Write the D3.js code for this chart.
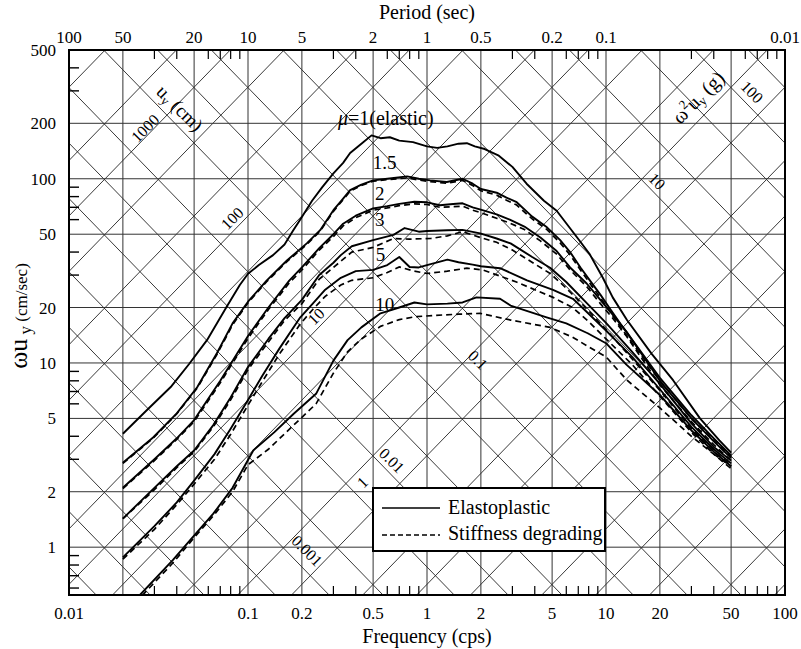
<!DOCTYPE html>
<html><head><meta charset="utf-8">
<script src="https://cdn.jsdelivr.net/npm/d3@7"></script>
<style>
body{margin:0;background:#fff}
svg text{font-family:"Liberation Serif","DejaVu Serif","Times New Roman",serif;fill:#000}
</style></head>
<body><svg id="c" width="801" height="649" font-family="Liberation Serif, DejaVu Serif, serif"></svg>
<script>
// ---------------- data ----------------
const freqGrid = [0.02,0.05,0.1,0.2,0.5,1,2,5,10,20,50];
const velGrid = [1,2,5,10,20,50,100,200];
const freqLabels = [0.01,0.1,0.2,0.5,1,2,5,10,20,50,100];
const periodLabels = [100,50,20,10,5,2,1,0.5,0.2,0.1,0.01];
const velLabels = [1,2,5,10,20,50,100,200,500];
const minorMult = [3,4,6,7,8,9];
const dispLines = [0.001,0.002,0.005,0.01,0.02,0.05,0.1,0.2,0.5,1,2,5,10,20,50,100,200,500,1000,2000,5000,10000];
const accLines = [0.00001,0.00002,0.00005,0.0001,0.0002,0.0005,0.001,0.002,0.005,0.01,0.02,0.05,0.1,0.2,0.5,1,2,5,10,20,50,100,200,500,1000];

// series: [frequency (cps), omega*u_y (cm/sec)]
const mu1 = [[0.02,4.13],[0.027,5.5],[0.037,7.4],[0.047,9.9],[0.059,13.3],[0.076,20.2],[0.09,26.5],[0.1,30.5],[0.115,34],[0.138,38.5],[0.16,44],[0.178,52],[0.2,62],[0.228,76],[0.26,90],[0.3,107],[0.34,122],[0.372,138],[0.43,155],[0.49,172],[0.55,166],[0.62,168],[0.7,161],[0.835,158],[1.0,150],[1.14,147],[1.3,150],[1.5,155],[1.67,156],[1.85,150],[2.1,145],[2.5,134],[3.0,116],[3.6,94],[4.5,76],[5.3,67],[6.9,48],[8.1,39],[9.6,29],[10.9,22.7],[13.1,17.1],[18,11.2],[23.7,8.06],[33.5,5],[43,3.8],[50,3.26]];
const mu15 = [[0.02,2.87],[0.0295,3.94],[0.04,5.33],[0.052,7.38],[0.067,11.3],[0.082,16.4],[0.1,21.5],[0.127,28],[0.165,36],[0.213,44.6],[0.253,52.6],[0.3,67.5],[0.34,78],[0.372,86.7],[0.43,93],[0.5,98],[0.6,100],[0.774,103],[0.9,100],[1.04,98],[1.29,96],[1.58,100],[1.8,94],[2.0,88],[2.45,84],[2.78,79],[3.17,74.6],[3.87,62.3],[4.68,54.5],[5.53,46.6],[6.3,40],[7.2,33],[8.14,28],[9.3,23.5],[10.6,19.5],[12.1,16.2],[15,12.2],[20,8.3],[30,5.2],[40,3.9],[50,3.15]];
const mu15d = [[0.02,2.85],[0.0295,3.9],[0.04,5.3],[0.052,7.3],[0.067,11.1],[0.082,16.1],[0.1,21.2],[0.127,27.6],[0.165,35.5],[0.213,44],[0.253,52],[0.3,66.5],[0.34,77],[0.372,85.5],[0.43,92],[0.5,97],[0.6,99],[0.774,101],[0.9,98.5],[1.04,96.5],[1.29,94.5],[1.58,98],[1.8,92],[2.0,86],[2.45,81.5],[2.78,76.5],[3.17,72],[3.87,60.5],[4.68,53],[5.53,45],[6.3,38.6],[7.2,32],[8.14,27],[9.3,22.6],[10.6,18.8],[12.1,15.6],[15,11.7],[20,8],[30,5],[40,3.8],[50,3.1]];
const mu2 = [[0.02,2.1],[0.03,3.0],[0.04,3.9],[0.05,4.9],[0.07,8],[0.1,14],[0.13,20],[0.17,28],[0.2,33],[0.25,42],[0.3,50],[0.34,57],[0.4,63],[0.5,69],[0.6,71],[0.7,73],[0.85,75],[1.0,74.5],[1.18,71.8],[1.4,73],[1.58,73.6],[1.8,70],[2.04,67.5],[2.45,64],[2.9,60],[3.5,55],[4.3,48],[5.3,40.5],[6.3,33],[7.8,27],[9.3,22],[10.9,18.3],[13,14.8],[20,8],[30,5],[40,3.75],[50,3.05]];
const mu2d = [[0.02,2.08],[0.03,2.95],[0.04,3.85],[0.05,4.8],[0.07,7.8],[0.1,13.6],[0.13,19.5],[0.17,27.2],[0.2,32],[0.25,41],[0.3,48.5],[0.34,55.5],[0.4,61.5],[0.5,67.5],[0.6,69.5],[0.7,71.5],[0.85,73],[1.0,72.5],[1.18,70],[1.4,70.5],[1.58,71],[1.8,67.5],[2.04,65],[2.45,61],[2.9,57.5],[3.5,53],[4.3,46],[5.3,39],[6.3,32],[7.8,26],[9.3,21],[10.9,17.5],[13,14],[20,7.6],[30,4.8],[40,3.6],[50,2.95]];
const mu3 = [[0.02,1.43],[0.03,2.1],[0.04,2.75],[0.05,3.35],[0.064,4.6],[0.08,6.5],[0.1,9.5],[0.13,13.5],[0.16,17.5],[0.2,22],[0.25,30],[0.3,35],[0.33,38.5],[0.38,43],[0.5,46.4],[0.65,49.6],[0.75,54],[0.9,51.6],[1.0,52],[1.3,52.5],[1.58,52.8],[1.98,50.5],[2.45,47.4],[2.93,44.6],[3.87,37.6],[4.87,32.9],[6.0,27.5],[7.5,22],[10,16.5],[14,11.5],[20,7.7],[30,4.7],[40,3.5],[50,2.95]];
const mu3d = [[0.02,1.43],[0.03,2.05],[0.04,2.7],[0.05,3.3],[0.064,4.5],[0.08,6.3],[0.1,9.2],[0.13,13],[0.16,17],[0.2,21],[0.25,28.5],[0.3,33],[0.38,40],[0.5,42.4],[0.65,47.4],[0.8,47],[1.05,47.4],[1.3,49],[1.58,51.6],[1.98,48],[2.45,45.2],[3.0,41],[3.9,35],[4.9,30.5],[6.0,25.5],[7.5,20.5],[10,15.2],[14,10.5],[20,7.1],[30,4.4],[40,3.3],[50,2.8]];
const mu5 = [[0.02,0.88],[0.03,1.3],[0.04,1.75],[0.05,2.3],[0.065,3.2],[0.08,4.4],[0.1,6.3],[0.12,8.5],[0.15,12],[0.196,17.7],[0.23,21],[0.27,25],[0.33,29],[0.4,31.5],[0.5,32],[0.6,34],[0.7,37.6],[0.8,33.2],[0.9,33],[1.0,34],[1.3,36.4],[1.5,35.2],[1.8,34.2],[2.0,33.5],[2.56,32.7],[3.62,28.1],[5.06,24.9],[6.54,22.3],[8,18.5],[10,15],[14,10.8],[20,7.2],[30,4.5],[40,3.4],[50,2.85]];
const mu5d = [[0.02,0.86],[0.03,1.25],[0.04,1.7],[0.05,2.2],[0.065,3.0],[0.08,4.1],[0.1,5.9],[0.12,7.9],[0.15,11.2],[0.196,16.3],[0.23,19.5],[0.27,23],[0.33,26.5],[0.38,28.1],[0.5,29],[0.6,31],[0.7,33.2],[0.85,31.5],[1.0,30.6],[1.3,31.5],[1.67,32.7],[2.05,32],[3.16,27.5],[5.06,22.7],[6.5,20],[8,16.8],[10,13.5],[14,9.8],[20,6.6],[30,4.2],[40,3.2],[50,2.75]];
const mu10 = [[0.02,0.42],[0.0249,0.55],[0.038,0.85],[0.049,1.13],[0.064,1.52],[0.082,2.1],[0.107,3.35],[0.14,4.2],[0.18,5.3],[0.24,6.8],[0.3,10.3],[0.36,13.3],[0.43,15.6],[0.55,18.6],[0.7,20],[0.85,21.3],[1.0,20.8],[1.3,21],[1.58,21.3],[1.89,22.7],[2.56,22.3],[2.93,20.5],[4.66,17.7],[6.0,16.4],[7.9,14.5],[10,12.8],[13,9.8],[20,6.7],[30,4.3],[40,3.3],[50,2.75]];
const mu10d = [[0.02,0.41],[0.0249,0.53],[0.038,0.82],[0.049,1.1],[0.064,1.48],[0.082,2.0],[0.1,2.8],[0.13,3.4],[0.18,4.6],[0.24,6],[0.3,8.8],[0.36,11.5],[0.43,13.5],[0.55,15.8],[0.7,17.2],[0.85,17.8],[1.08,18.1],[1.5,18.4],[1.98,18.6],[2.93,17.1],[4.87,15.6],[6.5,13.8],[8.4,11.9],[10,10.8],[13.1,8.06],[20,5.7],[30,4.0],[40,3.2],[50,2.67]];

const solidSeries = [mu1, mu15, mu2, mu3, mu5, mu10];
const dashedSeries = [mu15d, mu2d, mu3d, mu5d, mu10d];

// annotation anchors in data coordinates [text, freq, vel]
const muLabels = [["1.5",0.58,123],["2",0.545,84],["3",0.545,60.5],["5",0.55,39],["10",0.58,21]];
const dispLabelPos = [["1000",0.0266,188],["100",0.0815,61],["10",0.24,17.9],["1",0.435,2.25]];
const accLabelPos = [["0.001",0.214,0.958],["0.01",0.637,2.96],["0.1",1.93,10.4],["10",19.3,97],["100",65.5,296]];

// ---------------- drawing ----------------
const FONT = "Liberation Serif, DejaVu Serif, serif";
const L=69,R=785,T=50,B=595;
const svg = d3.select("#c");
const x = d3.scaleLog().domain([0.01,100]).range([L,R]);
const y = d3.scaleLog().domain([0.55,500]).range([B,T]);

svg.append("defs").append("clipPath").attr("id","clip")
  .append("rect").attr("x",L).attr("y",T).attr("width",R-L).attr("height",B-T);

const g = svg.append("g").attr("clip-path","url(#clip)");

const fEnds = [0.01,100];
dispLines.forEach(u=>{
  g.append("line").attr("x1",x(fEnds[0])).attr("y1",y(2*Math.PI*fEnds[0]*u))
   .attr("x2",x(fEnds[1])).attr("y2",y(2*Math.PI*fEnds[1]*u))
   .attr("stroke","#222").attr("stroke-width",0.9);
});
accLines.forEach(a=>{
  g.append("line").attr("x1",x(fEnds[0])).attr("y1",y(a*981/(2*Math.PI*fEnds[0])))
   .attr("x2",x(fEnds[1])).attr("y2",y(a*981/(2*Math.PI*fEnds[1])))
   .attr("stroke","#222").attr("stroke-width",0.9);
});
freqGrid.forEach(f=>{
  g.append("line").attr("x1",x(f)).attr("x2",x(f)).attr("y1",T).attr("y2",B)
   .attr("stroke","#333").attr("stroke-width",1);
});
velGrid.forEach(v=>{
  g.append("line").attr("y1",y(v)).attr("y2",y(v)).attr("x1",L).attr("x2",R)
   .attr("stroke","#333").attr("stroke-width",1);
});

[0.01,0.1,1,10].forEach(d=>minorMult.forEach(m=>{
  const xv = x(d*m);
  svg.append("line").attr("x1",xv).attr("x2",xv).attr("y1",T).attr("y2",T+9).attr("stroke","#000").attr("stroke-width",1.2);
  svg.append("line").attr("x1",xv).attr("x2",xv).attr("y1",B).attr("y2",B-9).attr("stroke","#000").attr("stroke-width",1.2);
}));
[0.1,1,10,100].forEach(d=>minorMult.forEach(m=>{
  const v=d*m; if(v<0.55||v>500) return;
  svg.append("line").attr("x1",L).attr("x2",L+10).attr("y1",y(v)).attr("y2",y(v)).attr("stroke","#000").attr("stroke-width",1.4);
}));

const line = d3.line().x(d=>x(d[0])).y(d=>y(d[1]));
dashedSeries.forEach(s=>{
  g.append("path").attr("d",line(s)).attr("fill","none").attr("stroke","#000")
   .attr("stroke-width",1.7).attr("stroke-dasharray","6,4");
});
solidSeries.forEach(s=>{
  g.append("path").attr("d",line(s)).attr("fill","none").attr("stroke","#000")
   .attr("stroke-width",1.9).attr("stroke-linejoin","round");
});

svg.append("rect").attr("x",L).attr("y",T).attr("width",R-L).attr("height",B-T)
  .attr("fill","none").attr("stroke","#000").attr("stroke-width",2);

function txt(){ return svg.append("text").attr("font-family",FONT); }

periodLabels.forEach(p=>{
  txt().attr("x",x(1/p)).attr("y",43).attr("text-anchor","middle").attr("font-size",17).text(p);
});
freqLabels.forEach(f=>{
  txt().attr("x",x(f)).attr("y",619).attr("text-anchor","middle").attr("font-size",17).text(f);
});
velLabels.forEach(v=>{
  txt().attr("x",56).attr("y",y(v)+6).attr("text-anchor","end").attr("font-size",17).text(v);
});
txt().attr("x",427).attr("y",19).attr("text-anchor","middle").attr("font-size",20).text("Period (sec)");
txt().attr("x",427).attr("y",643).attr("text-anchor","middle").attr("font-size",20).text("Frequency (cps)");
const yt = txt().attr("transform","translate(27,316) rotate(-90)").attr("text-anchor","middle");
yt.append("tspan").attr("font-size",26).text("ωu");
yt.append("tspan").attr("font-size",17).attr("dy",4).text(" y");
yt.append("tspan").attr("font-size",17).attr("dy",-4).text("  (cm/sec)");

function rotText(t,f,v,ang,size){
  txt().attr("transform",`translate(${x(f)},${y(v)}) rotate(${ang})`)
    .attr("text-anchor","middle").attr("dy","0.35em").attr("font-size",size).text(t);
}
dispLabelPos.forEach(d=>rotText(d[0],d[1],d[2],-45,16));
accLabelPos.forEach(d=>rotText(d[0],d[1],d[2],45,16));
{
  const t = txt().attr("transform",`translate(${x(0.0417)},${y(242)}) rotate(45)`)
    .attr("text-anchor","middle").attr("dy","0.35em").attr("font-size",19);
  t.append("tspan").text("u");
  t.append("tspan").attr("font-size",13).attr("dy",3).text("y");
  t.append("tspan").attr("dy",-3).text(" (cm)");
  const t2 = txt().attr("transform",`translate(${x(32.7)},${y(277)}) rotate(-45)`)
    .attr("text-anchor","middle").attr("dy","0.35em").attr("font-size",20);
  t2.append("tspan").text("ω");
  t2.append("tspan").attr("font-size",13).attr("dy",-8).text("2");
  t2.append("tspan").attr("dy",8).text("u");
  t2.append("tspan").attr("font-size",13).attr("dy",3).text("y");
  t2.append("tspan").attr("dy",-3).text(" (g)");
}
{
  const t = txt().attr("x",x(0.318)).attr("y",y(213)+7).attr("font-size",20);
  t.append("tspan").attr("font-style","italic").text("μ");
  t.append("tspan").text("=1(elastic)");
}
muLabels.forEach(d=>{
  txt().attr("x",x(d[1])).attr("y",y(d[2])+7).attr("text-anchor","middle").attr("font-size",19).text(d[0]);
});

const lg = svg.append("g");
lg.append("rect").attr("x",373).attr("y",488).attr("width",232).attr("height",63)
  .attr("fill","#fff").attr("stroke","#000").attr("stroke-width",2);
lg.append("line").attr("x1",382).attr("x2",440).attr("y1",508).attr("y2",508).attr("stroke","#000").attr("stroke-width",1.5);
lg.append("line").attr("x1",382).attr("x2",440).attr("y1",535).attr("y2",535).attr("stroke","#000").attr("stroke-width",1.5).attr("stroke-dasharray","5,3");
lg.append("text").attr("font-family",FONT).attr("x",448).attr("y",514).attr("font-size",20).text("Elastoplastic");
lg.append("text").attr("font-family",FONT).attr("x",448).attr("y",540).attr("font-size",20).text("Stiffness degrading");
</script></body></html>
